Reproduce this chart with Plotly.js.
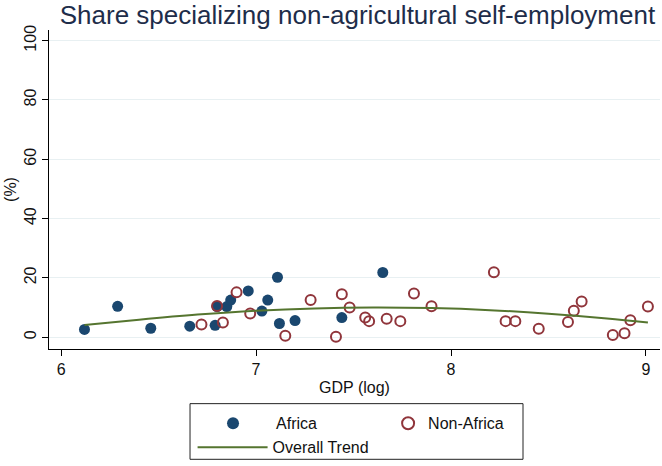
<!DOCTYPE html>
<html><head><meta charset="utf-8">
<script src="https://cdn.plot.ly/plotly-3.0.1.min.js"></script>
<style>body{margin:0;background:#fff}#chart{width:662px;height:466px}</style>
</head><body><div id="chart"></div>
<script>
// Africa (filled navy)
const africaX = [6.12, 6.29, 6.46, 6.66, 6.79, 6.80, 6.85, 6.87, 6.96, 7.03, 7.06, 7.11, 7.12, 7.20, 7.44, 7.65];
const africaY = [2.6, 10.4, 3.0, 3.7, 4.0, 10.3, 10.3, 12.5, 15.6, 8.8, 12.5, 20.2, 4.6, 5.6, 6.6, 21.8];
// Non-Africa (hollow maroon)
const nonAfricaX = [6.72, 6.80, 6.83, 6.90, 6.97, 7.15, 7.28, 7.41, 7.44, 7.48, 7.56, 7.58, 7.67, 7.74, 7.81, 7.90, 8.22, 8.28, 8.33, 8.45, 8.60, 8.63, 8.67, 8.83, 8.89, 8.92, 9.01];
const nonAfricaY = [4.3, 10.5, 4.9, 15.1, 8.0, 0.5, 12.5, 0.1, 14.5, 10.0, 6.6, 5.4, 6.2, 5.4, 14.7, 10.4, 21.9, 5.4, 5.4, 2.8, 5.1, 8.9, 12.0, 0.7, 1.3, 5.7, 10.3];
// Overall trend
const trendX = [6.12, 6.4, 6.7, 7.0, 7.3, 7.6, 7.9, 8.2, 8.5, 8.8, 9.01];
const trendY = [4.1, 5.9, 7.6, 8.9, 9.7, 10.0, 9.8, 9.1, 7.9, 6.3, 4.9];

const xTicks = [6, 7, 8, 9];
const yTicks = [0, 20, 40, 60, 80, 100];

const navy = '#1a476f', maroon = '#90353b', green = '#55752f';
const font = 'Liberation Sans, Arial, sans-serif';

const traces = [
  {x: africaX, y: africaY, type: 'scatter', mode: 'markers', name: 'Africa', legend: 'legend',
   marker: {color: navy, size: 11, line: {width: 0}}},
  {x: nonAfricaX, y: nonAfricaY, type: 'scatter', mode: 'markers', name: 'Non-Africa', legend: 'legend2',
   marker: {symbol: 'circle-open', color: maroon, size: 10, line: {width: 2, color: maroon}}},
  {x: trendX, y: trendY, type: 'scatter', mode: 'lines', name: 'Overall Trend', legend: 'legend3',
   line: {color: green, width: 2, shape: 'spline'}}
];

const legBase = {bgcolor: 'rgba(0,0,0,0)', borderwidth: 0, font: {family: font, size: 16, color: '#111'},
  xanchor: 'left', yanchor: 'middle', orientation: 'h'};

const layout = {
  width: 662, height: 466,
  margin: {l: 49, r: 2, t: 30, b: 115},
  paper_bgcolor: '#fff', plot_bgcolor: '#fff',
  title: {text: 'Share specializing non-agricultural self-employment', x: 0.54, xanchor: 'center', y: 0.968, yanchor: 'middle',
    font: {family: font, size: 26, color: '#1e2d4a'}},
  xaxis: {range: [5.938, 9.072], tickvals: xTicks, ticktext: xTicks.map(String), ticks: 'outside', ticklen: 6,
    tickcolor: '#000', showline: true, linecolor: '#000', linewidth: 1, showgrid: false, zeroline: false,
    tickfont: {family: font, size: 16, color: '#111'},
    title: {text: 'GDP (log)', font: {family: font, size: 16, color: '#111'}, standoff: 4}},
  yaxis: {range: [-4.0, 103.6], tickvals: yTicks, ticktext: yTicks.map(String), ticks: 'outside', ticklen: 6,
    tickcolor: '#000', showline: true, linecolor: '#000', linewidth: 1, showgrid: true, gridcolor: '#e8f0f2', gridwidth: 1,
    zeroline: false, tickangle: -90, tickfont: {family: font, size: 16, color: '#111'},
    title: {text: '(%)', font: {family: font, size: 16, color: '#111'}, standoff: 0}},
  showlegend: true,
  legend: Object.assign({}, legBase, {x: 0.2308, y: -0.233, itemwidth: 76, itemsizing: 'constant'}),
  legend2: Object.assign({}, legBase, {x: 0.555, y: -0.233, itemsizing: 'constant'}),
  legend3: Object.assign({}, legBase, {x: 0.235, y: -0.308, itemwidth: 70}),
  shapes: [{type: 'rect', xref: 'paper', yref: 'paper', x0: 0.2308, x1: 0.7758, y0: -0.3458, y1: -0.1713,
    line: {color: '#222', width: 1}, fillcolor: 'rgba(0,0,0,0)'}]
};

Plotly.newPlot('chart', traces, layout, {displayModeBar: false, staticPlot: true});
</script></body></html>
